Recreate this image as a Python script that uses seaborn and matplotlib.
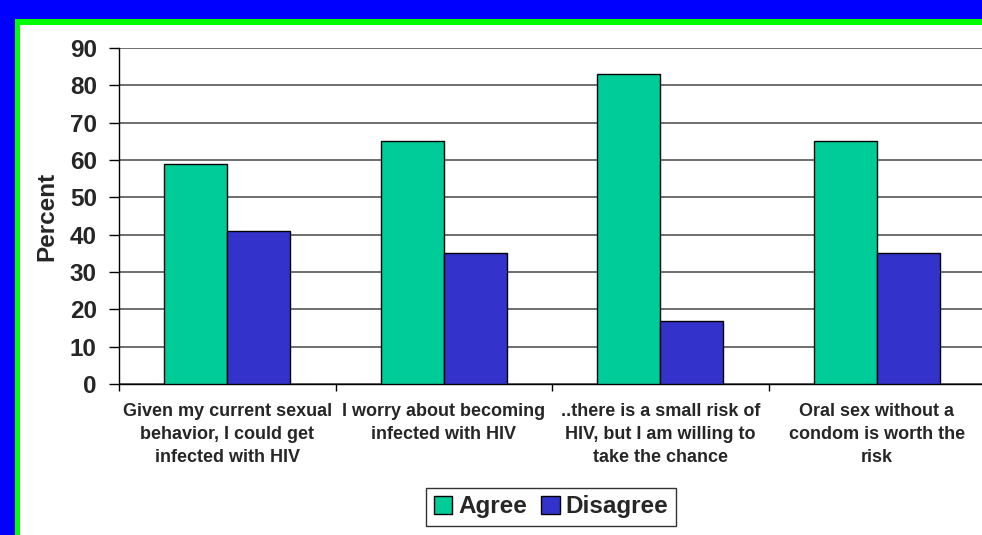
import matplotlib
matplotlib.use("Agg")
import matplotlib.pyplot as plt
from matplotlib.patches import Rectangle
from matplotlib.ticker import FixedLocator
import seaborn as sns
import pandas as pd

categories = [
    "Given my current sexual\nbehavior, I could get\ninfected with HIV",
    "I worry about becoming\ninfected with HIV",
    "..there is a small risk of\nHIV, but I am willing to\ntake the chance",
    "Oral sex without a\ncondom is worth the\nrisk",
]
agree = [59, 65, 83, 65]
disagree = [41, 35, 17, 35]
series_names = ["Agree", "Disagree"]
colors = ["#00CC99", "#3333CC"]

df = pd.DataFrame({
    "Question": categories * 2,
    "Percent": agree + disagree,
    "Response": [series_names[0]] * 4 + [series_names[1]] * 4,
})

sns.set_style("white")
plt.rcParams["font.family"] = ["Liberation Sans", "DejaVu Sans"]
plt.rcParams["font.weight"] = "bold"

W, H = 982, 535
fig = plt.figure(figsize=(W / 100, H / 100), dpi=100)
fig.patch.set_facecolor("#0000FF")

# green frame and white slide panel (run off the right and bottom edges)
fig.add_artist(Rectangle((15 / W, 0), 1, 1 - 19 / H, transform=fig.transFigure,
                         facecolor="#00FF00", edgecolor="none", zorder=-2))
fig.add_artist(Rectangle((20 / W, 0), 1, 1 - 25 / H, transform=fig.transFigure,
                         facecolor="white", edgecolor="none", zorder=-1))

ax = fig.add_axes([119 / W, 151 / H, 866 / W, 336 / H])
ax.set_facecolor("none")

sns.barplot(data=df, x="Question", y="Percent", hue="Response",
            palette=colors, width=0.58, edgecolor="black", linewidth=1,
            saturation=1, ax=ax, zorder=3)

ax.set_ylim(0, 90)
ax.set_xlim(-0.5, 3.5)
ax.set_yticks(range(0, 91, 10))
ax.yaxis.grid(True, color="#555555", linewidth=1.2, zorder=0)
ax.set_axisbelow(True)

for side in ["top", "right"]:
    ax.spines[side].set_visible(False)
for side in ["left", "bottom"]:
    ax.spines[side].set_color("black")
    ax.spines[side].set_linewidth(1)

ax.tick_params(axis="y", which="major", direction="out", length=7, width=1,
               color="black", pad=9, labelsize=17.5, left=True)
ax.tick_params(axis="x", which="major", length=0, pad=14, labelsize=13)
ax.xaxis.set_minor_locator(FixedLocator([-0.5, 0.5, 1.5, 2.5, 3.5]))
ax.tick_params(axis="x", which="minor", direction="out", length=5, width=1,
               color="black", bottom=True)
for lbl in ax.get_xticklabels():
    lbl.set_linespacing(1.45)
    lbl.set_fontweight("bold")
for lbl in ax.get_yticklabels():
    lbl.set_fontweight("bold")

ax.set_xlabel("")
ax.set_ylabel("Percent", fontsize=17.5, fontweight="bold", labelpad=8)

handles, labels = ax.get_legend_handles_labels()
ax.get_legend().remove()
leg = fig.legend(handles, labels, loc="center", bbox_to_anchor=(551 / W, 1 - 507 / H),
                 ncol=2, frameon=True, fancybox=False, fontsize=17.5,
                 handlelength=0.75, handleheight=0.7, handletextpad=0.25,
                 columnspacing=0.6, borderpad=0.3, borderaxespad=0)
leg.get_frame().set_edgecolor("black")
leg.get_frame().set_linewidth(1)
for t in leg.get_texts():
    t.set_fontweight("bold")

fig.savefig("out.png", dpi=100, facecolor=fig.get_facecolor())
